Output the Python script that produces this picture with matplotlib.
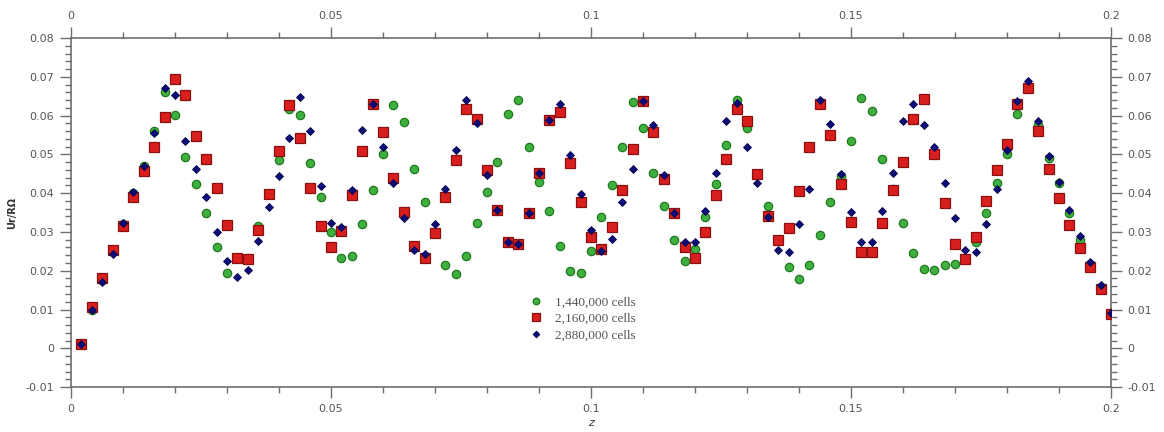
import matplotlib
matplotlib.use("Agg")
import matplotlib.pyplot as plt
from matplotlib.ticker import MultipleLocator, FuncFormatter

z = [0.002, 0.004, 0.006, 0.008, 0.010, 0.012, 0.014, 0.016, 0.018, 0.020,
     0.022, 0.024, 0.026, 0.028, 0.030, 0.032, 0.034, 0.036, 0.038, 0.040,
     0.042, 0.044, 0.046, 0.048, 0.050, 0.052, 0.054, 0.056, 0.058, 0.060,
     0.062, 0.064, 0.066, 0.068, 0.070, 0.072, 0.074, 0.076, 0.078, 0.080,
     0.082, 0.084, 0.086, 0.088, 0.090, 0.092, 0.094, 0.096, 0.098, 0.100,
     0.102, 0.104, 0.106, 0.108, 0.110, 0.112, 0.114, 0.116, 0.118, 0.120,
     0.122, 0.124, 0.126, 0.128, 0.130, 0.132, 0.134, 0.136, 0.138, 0.140,
     0.142, 0.144, 0.146, 0.148, 0.150, 0.152, 0.154, 0.156, 0.158, 0.160,
     0.162, 0.164, 0.166, 0.168, 0.170, 0.172, 0.174, 0.176, 0.178, 0.180,
     0.182, 0.184, 0.186, 0.188, 0.190, 0.192, 0.194, 0.196, 0.198, 0.200]

cells_1440k = [0.0010, 0.0100, 0.0175, 0.0250, 0.0320, 0.0400, 0.0470, 0.0561, 0.0662, 0.0602,
               0.0493, 0.0423, 0.0348, 0.0262, 0.0194, 0.0232, 0.0234, 0.0316, 0.0398, 0.0486,
               0.0616, 0.0602, 0.0477, 0.0390, 0.0300, 0.0234, 0.0239, 0.0320, 0.0407, 0.0502,
               0.0627, 0.0584, 0.0462, 0.0377, 0.0296, 0.0216, 0.0191, 0.0237, 0.0322, 0.0404,
               0.0480, 0.0603, 0.0640, 0.0520, 0.0428, 0.0353, 0.0264, 0.0200, 0.0194, 0.0251,
               0.0338, 0.0420, 0.0520, 0.0636, 0.0569, 0.0452, 0.0368, 0.0279, 0.0224, 0.0257,
               0.0338, 0.0423, 0.0523, 0.0640, 0.0568, 0.0449, 0.0367, 0.0280, 0.0210, 0.0179,
               0.0216, 0.0291, 0.0377, 0.0445, 0.0534, 0.0645, 0.0611, 0.0489, 0.0410, 0.0322,
               0.0246, 0.0205, 0.0203, 0.0214, 0.0218, 0.0232, 0.0275, 0.0350, 0.0426, 0.0500,
               0.0605, 0.0670, 0.0575, 0.0490, 0.0426, 0.0350, 0.0280, 0.0218, 0.0158, 0.0090]

cells_2160k = [0.0010, 0.0106, 0.0182, 0.0253, 0.0316, 0.0390, 0.0456, 0.0519, 0.0597, 0.0695,
               0.0652, 0.0548, 0.0488, 0.0414, 0.0317, 0.0234, 0.0231, 0.0305, 0.0397, 0.0509,
               0.0627, 0.0543, 0.0414, 0.0316, 0.0262, 0.0302, 0.0395, 0.0509, 0.0630, 0.0558,
               0.0439, 0.0351, 0.0263, 0.0233, 0.0296, 0.0391, 0.0485, 0.0616, 0.0592, 0.0459,
               0.0357, 0.0273, 0.0270, 0.0350, 0.0452, 0.0588, 0.0610, 0.0477, 0.0377, 0.0287,
               0.0255, 0.0312, 0.0407, 0.0515, 0.0637, 0.0558, 0.0437, 0.0350, 0.0262, 0.0234,
               0.0300, 0.0394, 0.0488, 0.0616, 0.0585, 0.0449, 0.0342, 0.0279, 0.0311, 0.0406,
               0.0518, 0.0630, 0.0549, 0.0424, 0.0326, 0.0247, 0.0247, 0.0324, 0.0408, 0.0480,
               0.0591, 0.0643, 0.0502, 0.0375, 0.0270, 0.0231, 0.0286, 0.0380, 0.0460, 0.0528,
               0.0630, 0.0670, 0.0561, 0.0463, 0.0387, 0.0317, 0.0259, 0.0210, 0.0152, 0.0089]

cells_2880k = [0.0010, 0.0098, 0.0170, 0.0244, 0.0324, 0.0402, 0.0471, 0.0555, 0.0672, 0.0654,
               0.0534, 0.0462, 0.0390, 0.0300, 0.0224, 0.0184, 0.0203, 0.0276, 0.0365, 0.0445,
               0.0541, 0.0648, 0.0559, 0.0419, 0.0324, 0.0313, 0.0407, 0.0562, 0.0630, 0.0520,
               0.0427, 0.0337, 0.0253, 0.0242, 0.0320, 0.0410, 0.0511, 0.0640, 0.0580, 0.0447,
               0.0357, 0.0273, 0.0270, 0.0350, 0.0452, 0.0588, 0.0631, 0.0499, 0.0398, 0.0305,
               0.0251, 0.0283, 0.0376, 0.0462, 0.0637, 0.0577, 0.0446, 0.0350, 0.0273, 0.0273,
               0.0355, 0.0453, 0.0587, 0.0633, 0.0520, 0.0426, 0.0339, 0.0253, 0.0247, 0.0320,
               0.0410, 0.0639, 0.0578, 0.0450, 0.0352, 0.0273, 0.0273, 0.0355, 0.0453, 0.0586,
               0.0629, 0.0577, 0.0520, 0.0426, 0.0337, 0.0253, 0.0247, 0.0320, 0.0410, 0.0512,
               0.0637, 0.0690, 0.0585, 0.0497, 0.0430, 0.0357, 0.0289, 0.0223, 0.0162, 0.0090]

labels = ["1,440,000 cells", "2,160,000 cells", "2,880,000 cells"]
xticks = [0, 0.05, 0.1, 0.15, 0.2]
yticks = [-0.01, 0, 0.01, 0.02, 0.03, 0.04, 0.05, 0.06, 0.07, 0.08]

fig = plt.figure(figsize=(11.64, 4.32), dpi=100)
ax = fig.add_axes([0.061, 0.104, 0.8935, 0.808])

ax.plot(z, cells_1440k, linestyle="none", marker="o", markersize=6.0,
        markerfacecolor="#3fb03f", markeredgecolor="#1f7a1f", markeredgewidth=0.9,
        label=labels[0], zorder=3)
ax.plot(z, cells_2160k, linestyle="none", marker="s", markersize=7.6,
        markerfacecolor="#d91e1e", markeredgecolor="#8a1010", markeredgewidth=0.9,
        label=labels[1], zorder=4)
ax.plot(z, cells_2880k, linestyle="none", marker="D", markersize=4.3,
        markerfacecolor="#0b0b7a", markeredgecolor="#05054a", markeredgewidth=0.6,
        label=labels[2], zorder=5)

ax.set_xlim(0, 0.2)
ax.set_ylim(-0.01, 0.08)

def fmt(v, pos):
    s = ("%.2f" % v).rstrip("0").rstrip(".")
    if s in ("-0",):
        s = "0"
    return s

ax.set_xticks(xticks)
ax.set_yticks(yticks)
ax.xaxis.set_major_formatter(FuncFormatter(fmt))
ax.yaxis.set_major_formatter(FuncFormatter(fmt))
ax.xaxis.set_minor_locator(MultipleLocator(0.01))
ax.yaxis.set_minor_locator(MultipleLocator(0.002))

gray = "#6e6e6e"
ax.tick_params(axis="both", which="both", direction="out", colors=gray,
               labelcolor="#555555", labelsize=8,
               top=True, right=True, labeltop=True, labelright=True)
ax.tick_params(axis="both", which="major", length=8, width=1, pad=4)
ax.tick_params(axis="both", which="minor", length=4.3, width=1)
for sp in ax.spines.values():
    sp.set_color(gray)
    sp.set_linewidth(1.2)

ax.set_ylabel("Ur/RΩ", fontsize=7, fontweight="bold", color="#333333", labelpad=6)
ax.set_xlabel("z", fontsize=8, fontstyle="italic", color="#333333", labelpad=3)

leg = ax.legend(loc="upper left", bbox_to_anchor=(0.441, 0.26), frameon=False,
                prop={"family": "Liberation Serif", "size": 9.5},
                handlelength=1.0, handletextpad=0.9, labelspacing=0.32,
                borderaxespad=0, borderpad=0, markerscale=0.8)
for t in leg.get_texts():
    t.set_color("#555555")

fig.savefig("out.png", dpi=100, facecolor="white")
